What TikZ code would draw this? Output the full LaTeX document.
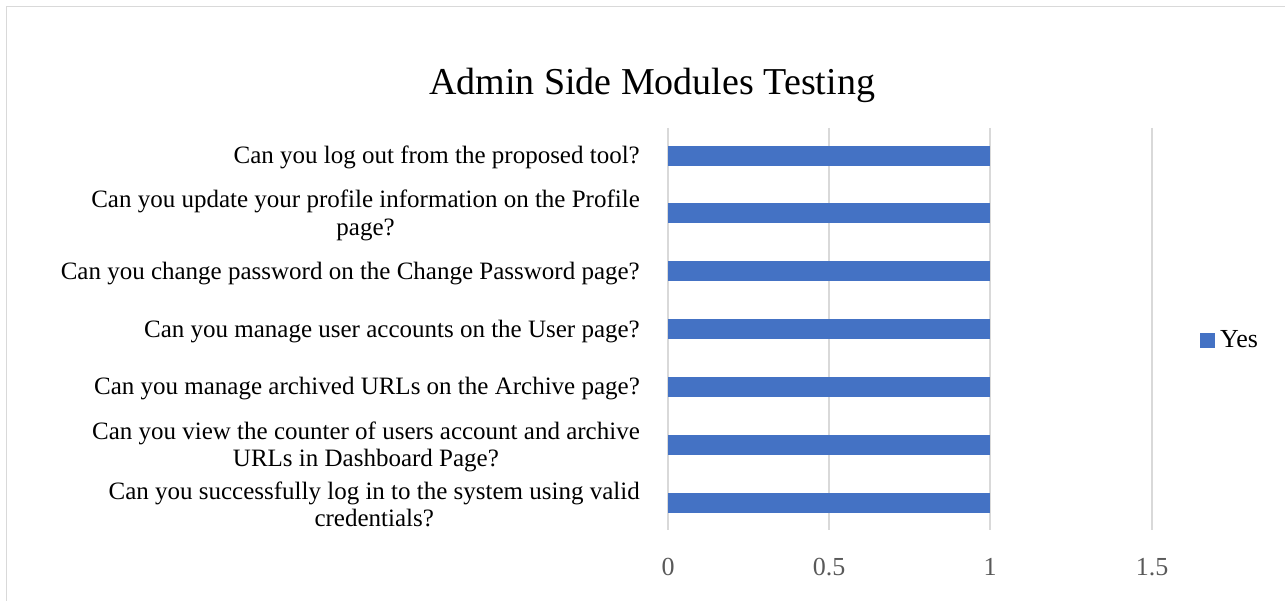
\documentclass[tikz,border=0pt]{standalone}
\usepackage{fontspec}
\setmainfont{Liberation Serif}
\definecolor{barblue}{HTML}{4472C4}
\definecolor{gridgray}{HTML}{D9D9D9}
\definecolor{framegray}{HTML}{D9D9D9}
\definecolor{ticktext}{HTML}{595959}
\tikzset{
  qlabel/.style={anchor=east, align=center, inner sep=0pt, font=\fontsize{25}{27.5}\selectfont},
  bar/.style={fill=barblue, draw=none},
  gridline/.style={draw=gridgray, line width=1.2pt},
  ticklabel/.style={anchor=base, text=ticktext, font=\fontsize{26}{30}\selectfont, inner sep=0pt},
}
\begin{document}
\begin{tikzpicture}[x=1pt, y=-1pt]
\useasboundingbox (0,0) rectangle (1285,601);
% chart frame (top and left edges)
\draw[framegray, line width=1.5pt] (6.5,601) -- (6.5,6.5) -- (1285,6.5);
% title
\node[anchor=base, inner sep=0pt, font=\fontsize{38}{44}\selectfont] (title) at (652,95) {Admin Side Modules Testing};
% vertical grid lines
\foreach \gx in {668, 829, 990, 1152} {
  \draw[gridline] (\gx,128) -- (\gx,530);
}
% bars: all values equal to 1
\foreach \i in {0,...,6} {
  \pgfmathsetmacro{\yc}{155.7+57.8*\i}
  \fill[bar] (668,\yc-10) rectangle (990,\yc+10);
}
% category labels
\node[qlabel] (q1) at (640,157.7) {Can you log out from the proposed tool?};
\node[qlabel] (q2) at (640,215.5) {Can you update your profile information on the Profile\\page?};
\node[qlabel] (q3) at (640,273.3) {Can you change password on the Change Password page?};
\node[qlabel] (q4) at (640,331.1) {Can you manage user accounts on the User page?};
\node[qlabel] (q5) at (640,388.9) {Can you manage archived URLs on the Archive page?};
\node[qlabel] (q6) at (640,446.7) {Can you view the counter of users account and archive\\URLs in Dashboard Page?};
\node[qlabel] (q7) at (640,504.5) {Can you successfully log in to the system using valid\\credentials?};
% axis tick labels
\node[ticklabel] (t0) at (668,575) {0};
\node[ticklabel] (t1) at (829,575) {0.5};
\node[ticklabel] (t2) at (990,575) {1};
\node[ticklabel] (t3) at (1152,575) {1.5};
% legend
\fill[barblue] (1200,333) rectangle (1215,348);
\node[anchor=base west, inner sep=0pt, font=\fontsize{26}{30}\selectfont] (leg) at (1220,348) {Yes};
\end{tikzpicture}
\end{document}
